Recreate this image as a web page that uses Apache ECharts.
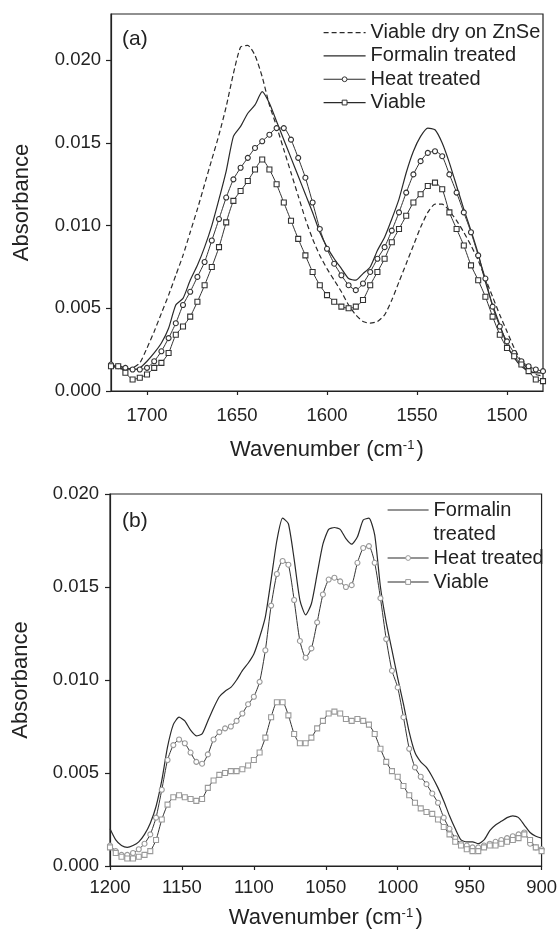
<!DOCTYPE html>
<html>
<head>
<meta charset="utf-8">
<script src="https://cdn.jsdelivr.net/npm/echarts@6/dist/echarts.min.js"></script>
<style>html,body{margin:0;padding:0;background:#fff}#c{width:560px;height:935px}</style>
</head>
<body>
<div id="c"></div>
<script>
// ---------- Panel (a): 1720 – 1480 cm-1 ----------
const wnA = [1720,1716,1712,1708,1704,1700,1696,1692,1688,1684,
             1680,1676,1672,1668,1664,1660,1656,1652,1648,1644,
             1640,1636,1632,1628,1624,1620,1616,1612,1608,1604,
             1600,1596,1592,1588,1584,1580,1576,1572,1568,1564,
             1560,1556,1552,1548,1544,1540,1536,1532,1528,1524,
             1520,1516,1512,1508,1504,1500,1496,1492,1488,1484,1480];
const dryA = [0.0015,0.0014,0.0013,0.0014,0.0017,0.0026,0.0036,0.0047,0.0058,0.0070,
              0.0082,0.0096,0.0110,0.0125,0.0140,0.0155,0.0172,0.0192,0.0208,0.0209,
              0.0203,0.0190,0.0173,0.0160,0.0146,0.0132,0.0118,0.0104,0.0092,0.0082,
              0.0074,0.0067,0.0060,0.0052,0.0046,0.0042,0.0041,0.0042,0.0046,0.0055,
              0.0066,0.0077,0.0088,0.0099,0.0108,0.0113,0.0113,0.0109,0.0103,0.0096,
              0.0088,0.0079,0.0068,0.0057,0.0046,0.0036,0.0026,0.0018,0.0013,0.0010,0.0009];
const formalinA = [0.0015,0.0015,0.0014,0.0013,0.0014,0.0018,0.0023,0.0029,0.0038,0.0052,
                   0.0056,0.0067,0.0076,0.0087,0.0100,0.0116,0.0133,0.0154,0.0160,0.0168,
                   0.0173,0.0181,0.0174,0.0163,0.0152,0.0141,0.0130,0.0119,0.0108,0.0096,
                   0.0087,0.0080,0.0074,0.0068,0.0067,0.0071,0.0075,0.0085,0.0093,0.0104,
                   0.0116,0.0132,0.0145,0.0154,0.0159,0.0158,0.0150,0.0138,0.0124,0.0110,
                   0.0097,0.0083,0.0066,0.0052,0.0040,0.0028,0.0020,0.0015,0.0012,0.0011,0.0011];
const heatA = [0.0016,0.0015,0.0014,0.0013,0.0013,0.0014,0.0018,0.0024,0.0032,0.0041,
               0.0052,0.0060,0.0069,0.0078,0.0091,0.0104,0.0117,0.0128,0.0135,0.0141,
               0.0147,0.0151,0.0155,0.0159,0.0159,0.0152,0.0141,0.0129,0.0114,0.0098,
               0.0086,0.0077,0.0070,0.0064,0.0061,0.0065,0.0072,0.0080,0.0087,0.0097,
               0.0108,0.0120,0.0131,0.0139,0.0144,0.0145,0.0142,0.0131,0.0120,0.0108,
               0.0096,0.0082,0.0068,0.0051,0.0039,0.0030,0.0023,0.0018,0.0015,0.0013,0.0012];
const viableA = [0.0015,0.0015,0.0011,0.0007,0.0008,0.0010,0.0014,0.0017,0.0023,0.0034,
                 0.0039,0.0045,0.0054,0.0064,0.0075,0.0087,0.0102,0.0115,0.0121,0.0127,
                 0.0134,0.0140,0.0134,0.0125,0.0114,0.0103,0.0092,0.0082,0.0072,0.0064,
                 0.0058,0.0054,0.0051,0.0050,0.0051,0.0055,0.0064,0.0072,0.0080,0.0090,
                 0.0098,0.0106,0.0114,0.0119,0.0124,0.0126,0.0122,0.0108,0.0098,0.0088,
                 0.0076,0.0067,0.0057,0.0045,0.0034,0.0026,0.0021,0.0016,0.0012,0.0007,0.0006];

// ---------- Panel (b): 1200 – 900 cm-1 ----------
const wnB = [1200,1196,1192,1188,1184,1180,1176,1172,1168,1164,
             1160,1156,1152,1148,1144,1140,1136,1132,1128,1124,
             1120,1116,1112,1108,1104,1100,1096,1092,1088,1084,
             1080,1076,1072,1068,1064,1060,1056,1052,1048,1044,
             1040,1036,1032,1028,1024,1020,1016,1012,1008,1004,
             1000,996,992,988,984,980,976,972,968,964,
             960,956,952,948,944,940,936,932,928,924,
             920,916,912,908,904,900];
const formalinB = [0.0020,0.0014,0.0011,0.0010,0.0011,0.0013,0.0017,0.0023,0.0032,0.0046,
                   0.0064,0.0076,0.0080,0.0078,0.0073,0.0070,0.0071,0.0078,0.0085,0.0091,
                   0.0094,0.0096,0.0100,0.0105,0.0109,0.0114,0.0123,0.0134,0.0154,0.0175,
                   0.0187,0.0184,0.0165,0.0143,0.0135,0.0141,0.0157,0.0173,0.0181,0.0182,
                   0.0181,0.0176,0.0173,0.0177,0.0186,0.0187,0.0178,0.0150,0.0131,0.0116,
                   0.0101,0.0087,0.0072,0.0061,0.0056,0.0053,0.0048,0.0042,0.0035,0.0027,
                   0.0020,0.0014,0.0013,0.0013,0.0012,0.0014,0.0019,0.0022,0.0024,0.0026,
                   0.0027,0.0026,0.0022,0.0018,0.0016,0.0015];
const heatB = [0.0011,0.0008,0.0006,0.0006,0.0007,0.0009,0.0012,0.0017,0.0026,0.0041,
               0.0057,0.0065,0.0068,0.0066,0.0061,0.0056,0.0055,0.0060,0.0068,0.0072,
               0.0074,0.0075,0.0078,0.0082,0.0087,0.0091,0.0099,0.0116,0.0140,0.0157,
               0.0164,0.0162,0.0143,0.0121,0.0112,0.0117,0.0131,0.0146,0.0154,0.0155,
               0.0153,0.0150,0.0151,0.0163,0.0171,0.0172,0.0163,0.0144,0.0122,0.0105,
               0.0096,0.0080,0.0063,0.0053,0.0048,0.0044,0.0039,0.0034,0.0026,0.0020,
               0.0015,0.0012,0.0011,0.0010,0.0010,0.0011,0.0012,0.0013,0.0014,0.0015,
               0.0016,0.0017,0.0018,0.0012,0.0010,0.0009];
const viableB = [0.0010,0.0007,0.0005,0.0004,0.0004,0.0005,0.0006,0.0008,0.0014,0.0025,
                 0.0033,0.0037,0.0038,0.0037,0.0036,0.0035,0.0036,0.0042,0.0046,0.0049,
                 0.0050,0.0051,0.0051,0.0052,0.0054,0.0057,0.0061,0.0069,0.0080,0.0088,
                 0.0088,0.0081,0.0071,0.0066,0.0066,0.0069,0.0074,0.0078,0.0082,0.0083,
                 0.0082,0.0079,0.0078,0.0079,0.0078,0.0076,0.0071,0.0063,0.0056,0.0051,
                 0.0048,0.0043,0.0038,0.0034,0.0031,0.0029,0.0028,0.0025,0.0021,0.0017,
                 0.0013,0.0011,0.0009,0.0008,0.0008,0.0010,0.0011,0.0011,0.0012,0.0013,
                 0.0014,0.0015,0.0017,0.0014,0.0010,0.0008];

// ---------- Tick labels ----------
const xTicksA = [1700, 1650, 1600, 1550, 1500];
const xTicksB = [1200, 1150, 1100, 1050, 1000, 950, 900];
const yTicks = [0, 0.005, 0.010, 0.015, 0.020];

const FONT = "'Liberation Sans', Arial, Helvetica, sans-serif";
const INK = '#222';
const pair = (xs, ys) => xs.map((x, i) => [x, ys[i]]);

const xName = 'Wavenumber (cm{sup|-1}{sp| })';
const nameStyle = {
  fontSize: 22, color: INK, fontFamily: FONT,
  rich: {
    sup: { fontSize: 13, color: INK, fontFamily: FONT, verticalAlign: 'top', lineHeight: 22 },
    sp: { fontSize: 8, color: INK, fontFamily: FONT }
  }
};
const labelStyle = { fontSize: 18.5, color: INK, fontFamily: FONT };
const lineSt = { color: INK, width: 1.2 };

function xAxisCfg(grid, min, max, ticks, margin, gap) {
  return {
    gridIndex: grid, type: 'value', min: min, max: max, inverse: true,
    axisLine: { show: true, onZero: false, lineStyle: lineSt },
    axisTick: { show: true, length: 4, customValues: ticks, lineStyle: lineSt },
    axisLabel: Object.assign({ customValues: ticks, margin: margin, formatter: v => String(Math.round(v)) }, labelStyle),
    splitLine: { show: false },
    name: xName, nameLocation: 'middle', nameGap: gap, nameTextStyle: nameStyle
  };
}
function yAxisCfg(grid, max, margin) {
  return {
    gridIndex: grid, type: 'value', min: 0, max: max,
    axisLine: { show: true, onZero: false, lineStyle: lineSt },
    axisTick: { show: true, length: 5, customValues: yTicks, lineStyle: lineSt },
    axisLabel: Object.assign({ customValues: yTicks, margin: margin, formatter: v => v.toFixed(3) }, labelStyle),
    splitLine: { show: false },
    name: 'Absorbance', nameLocation: 'middle', nameGap: 78, nameTextStyle: { fontSize: 22, color: INK, fontFamily: FONT }
  };
}

const plainLine = (name, x, y, grid, dash) => ({
  name: name, type: 'line', xAxisIndex: grid, yAxisIndex: grid,
  data: pair(x, y), symbol: 'none', smooth: 0.2,
  lineStyle: { color: '#2a2a2a', width: 1.2, type: dash ? [5, 3] : 'solid' },
  itemStyle: { color: '#2a2a2a' }, z: 2, silent: true
});
const markLine = (name, x, y, grid, sym, mcol) => ({
  name: name, type: 'line', xAxisIndex: grid, yAxisIndex: grid,
  data: pair(x, y), symbol: sym, symbolSize: 5, showSymbol: true, showAllSymbol: true,
  smooth: 0.2,
  lineStyle: { color: '#333', width: 1 },
  itemStyle: { color: '#fff', borderColor: mcol, borderWidth: 1.1 },
  z: 3, silent: true
});

const labelsB = {
  'Formalin treated (b)': ' \nFormalin\ntreated',
  'Heat treated (b)': 'Heat treated',
  'Viable (b)': 'Viable'
};

const option = {
  animation: false,
  backgroundColor: '#fff',
  title: [
    { text: '(a)', left: 122, top: 27, padding: 0, textStyle: { fontSize: 21, fontWeight: 'normal', color: INK, fontFamily: FONT, lineHeight: 24 } },
    { text: '(b)', left: 122, top: 509, padding: 0, textStyle: { fontSize: 21, fontWeight: 'normal', color: INK, fontFamily: FONT, lineHeight: 24 } }
  ],
  grid: [
    { left: 111, top: 14, width: 432, height: 377, show: true, borderColor: INK, borderWidth: 1.2, backgroundColor: 'transparent' },
    { left: 110, top: 494, width: 433, height: 372, show: true, borderColor: INK, borderWidth: 1.2, backgroundColor: 'transparent' }
  ],
  xAxis: [ xAxisCfg(0, 1480, 1720, xTicksA, 15, 48), xAxisCfg(1, 900, 1200, xTicksB, 12, 41) ],
  yAxis: [ yAxisCfg(0, 0.0228, 10), yAxisCfg(1, 0.020, 11) ],
  legend: [
    {
      orient: 'vertical', left: 323, top: 21, padding: 0, itemGap: 0,
      itemWidth: 42, itemHeight: 6, selectedMode: false,
      itemStyle: { borderWidth: 1 }, lineStyle: { width: 1.2, color: '#2a2a2a' },
      data: [ { name: 'Viable dry on ZnSe', itemStyle: { opacity: 0 } },
              { name: 'Formalin treated', itemStyle: { opacity: 0 } }, 'Heat treated', 'Viable' ],
      textStyle: { fontSize: 20, color: INK, fontFamily: FONT, lineHeight: 23.3 }
    },
    {
      orient: 'vertical', left: 387, top: 474, padding: 0, itemGap: 0,
      itemWidth: 41, itemHeight: 6, selectedMode: false,
      itemStyle: { borderWidth: 1 }, lineStyle: { width: 1.2, color: '#2a2a2a' },
      data: [ { name: 'Formalin treated (b)', itemStyle: { opacity: 0 } }, 'Heat treated (b)', 'Viable (b)' ],
      formatter: n => labelsB[n],
      textStyle: { fontSize: 20, color: INK, fontFamily: FONT, lineHeight: 24 }
    }
  ],
  series: [
    plainLine('Viable dry on ZnSe', wnA, dryA, 0, true),
    plainLine('Formalin treated', wnA, formalinA, 0, false),
    markLine('Heat treated', wnA, heatA, 0, 'circle', '#333'),
    markLine('Viable', wnA, viableA, 0, 'rect', '#333'),
    plainLine('Formalin treated (b)', wnB, formalinB, 1, false),
    markLine('Heat treated (b)', wnB, heatB, 1, 'circle', '#9a9a9a'),
    markLine('Viable (b)', wnB, viableB, 1, 'rect', '#9a9a9a')
  ]
};

const chart = echarts.init(document.getElementById('c'), null, { renderer: 'canvas' });
chart.setOption(option);
</script>
</body>
</html>
